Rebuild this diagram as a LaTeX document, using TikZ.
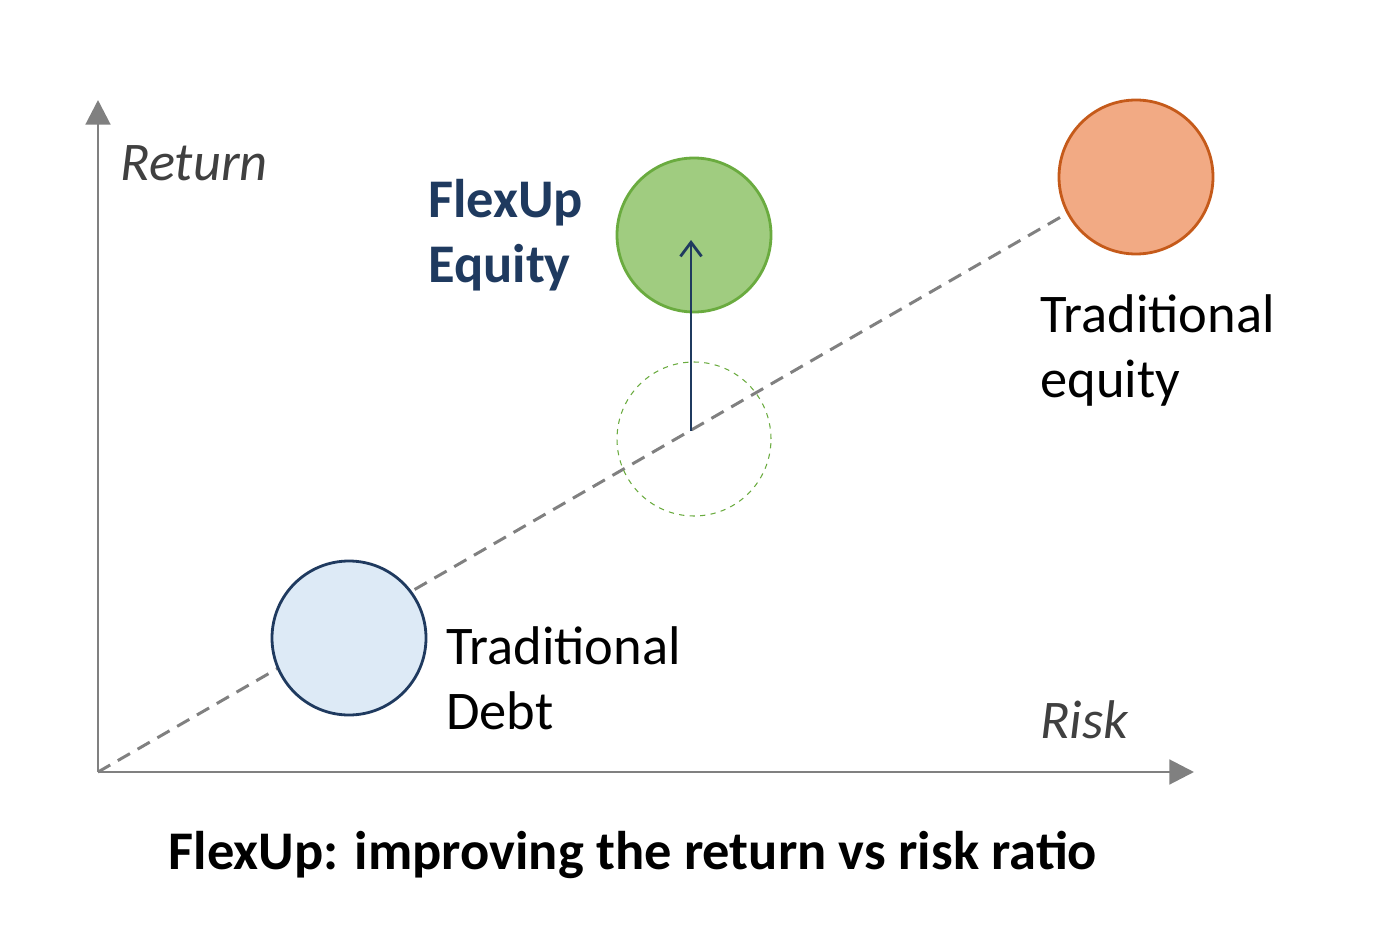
\documentclass[tikz,border=0pt]{standalone}
\usepackage{fontspec}
\setmainfont{Carlito}
\usetikzlibrary{arrows.meta}
\definecolor{axisgray}{HTML}{808080}
\definecolor{navy}{HTML}{1F3A5F}
\definecolor{txtgray}{HTML}{404040}
\definecolor{debtfill}{HTML}{DDEAF6}
\definecolor{gline}{HTML}{6AAB3F}
\definecolor{gfill}{HTML}{A0CC80}
\definecolor{oline}{HTML}{C55A1A}
\definecolor{ofill}{HTML}{F2AA84}
\tikzset{
 bubble/.style={circle,minimum size=154*0.02cm,inner sep=0,line width=1.6pt},
 lbl/.style={anchor=west,align=left,font=\fontsize{31}{37}\selectfont,inner sep=0},
}
\begin{document}
\begin{tikzpicture}[x=0.02cm,y=-0.02cm]
\useasboundingbox (0,0) rectangle (1394,936);
\coordinate (o) at (98,772);
\coordinate (ytop) at (98,100);
\coordinate (xend) at (1194,772);
\coordinate (dend) at (1066,214);
\draw[axisgray,line width=1.7pt,dash pattern=on 8pt off 5pt] (o) -- (dend);
\draw[axisgray,line width=1.7pt,-{Triangle[length=14pt,width=14pt]}] (o) -- (ytop);
\draw[axisgray,line width=1.7pt,-{Triangle[length=14pt,width=14pt]}] (o) -- (xend);
\node[bubble,draw=navy,fill=debtfill] (debt) at (349,638) {};
\node[bubble,draw=gline,line width=0.6pt,dashed] (mid) at (694,439) {};
\node[bubble,draw=gline,fill=gfill] (flex) at (694,235) {};
\node[bubble,draw=oline,fill=ofill] (eq) at (1136,177) {};
\coordinate (astart) at (691,431);
\coordinate (aend) at (691,240);
\draw[navy,line width=1.6pt,-{Straight Barb[length=8pt,width=12pt]}] (astart) -- (aend);
\node[lbl,text=txtgray,font=\fontsize{31}{37}\selectfont\itshape] (ret) at (120,163) {Return};
\node[lbl,text=txtgray,font=\fontsize{31}{37}\selectfont\itshape] (risk) at (1040,720) {Risk};
\node[lbl,text=navy,font=\fontsize{31}{37}\selectfont\bfseries] (fl) at (428,235) {FlexUp\\Equity};
\node[lbl] (te) at (1040,350) {Traditional\\equity};
\node[lbl] (td) at (446,678) {Traditional\\Debt};
\node[font=\fontsize{31}{37}\selectfont\bfseries,inner sep=0] (title) at (633,855) {FlexUp: improving the return vs risk ratio};
\end{tikzpicture}
\end{document}
